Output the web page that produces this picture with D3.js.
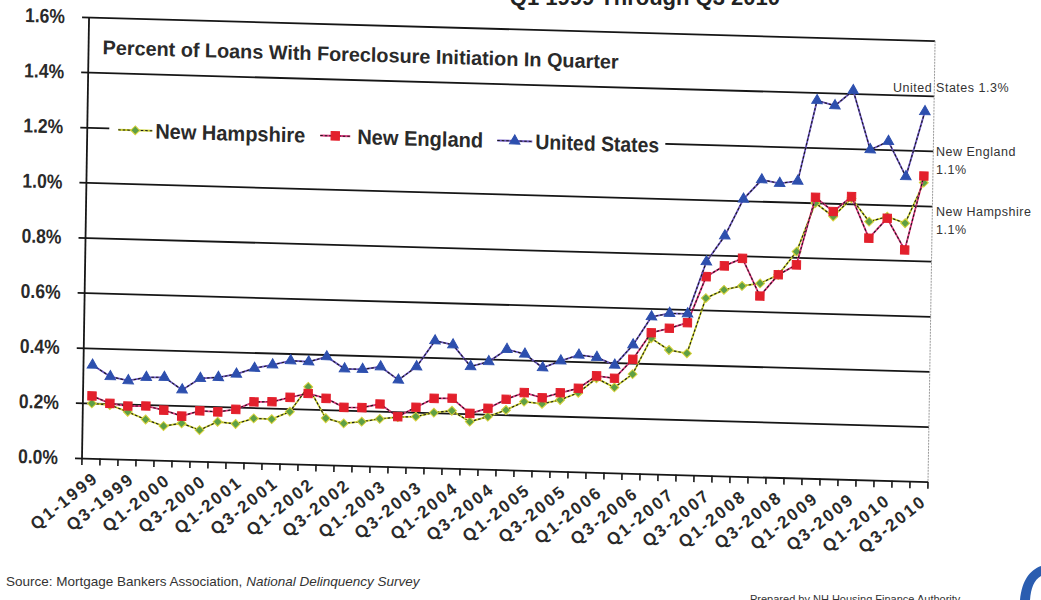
<!DOCTYPE html>
<html>
<head>
<meta charset="utf-8">
<script src="https://cdn.jsdelivr.net/npm/d3@7"></script>
<style>
  body { margin: 0; background: #fff; }
  svg { display: block; }
</style>
</head>
<body>
<svg id="chart" width="1041" height="600"></svg>
<script>
// Quarters Q1-1999 .. Q3-2010
const quarters = [
  "Q1-1999","Q2-1999","Q3-1999","Q4-1999","Q1-2000","Q2-2000","Q3-2000","Q4-2000",
  "Q1-2001","Q2-2001","Q3-2001","Q4-2001","Q1-2002","Q2-2002","Q3-2002","Q4-2002",
  "Q1-2003","Q2-2003","Q3-2003","Q4-2003","Q1-2004","Q2-2004","Q3-2004","Q4-2004",
  "Q1-2005","Q2-2005","Q3-2005","Q4-2005","Q1-2006","Q2-2006","Q3-2006","Q4-2006",
  "Q1-2007","Q2-2007","Q3-2007","Q4-2007","Q1-2008","Q2-2008","Q3-2008","Q4-2008",
  "Q1-2009","Q2-2009","Q3-2009","Q4-2009","Q1-2010","Q2-2010","Q3-2010"
];
const tickLabels = [
  "Q1-1999","Q3-1999","Q1-2000","Q3-2000","Q1-2001","Q3-2001","Q1-2002","Q3-2002",
  "Q1-2003","Q3-2003","Q1-2004","Q3-2004","Q1-2005","Q3-2005","Q1-2006","Q3-2006",
  "Q1-2007","Q3-2007","Q1-2008","Q3-2008","Q1-2009","Q3-2009","Q1-2010","Q3-2010"
];
const yTicks = [0, 0.2, 0.4, 0.6, 0.8, 1.0, 1.2, 1.4, 1.6];

// Percent of loans with foreclosure initiation in quarter
const newHampshire = [
  0.199,0.195,0.172,0.146,0.124,0.136,0.113,0.145,0.139,0.161,0.160,0.189,
  0.281,0.169,0.152,0.160,0.172,0.180,0.184,0.200,0.209,0.171,0.191,0.217,
  0.249,0.243,0.259,0.287,0.341,0.310,0.360,0.492,0.451,0.441,0.643,0.675,
  0.691,0.702,0.735,0.821,0.999,0.952,1.020,0.937,0.957,0.935,1.084
];
const newEngland = [
  0.226,0.201,0.193,0.195,0.182,0.162,0.183,0.181,0.192,0.221,0.223,0.241,
  0.257,0.241,0.210,0.211,0.226,0.182,0.218,0.252,0.254,0.201,0.221,0.256,
  0.282,0.265,0.285,0.303,0.350,0.343,0.414,0.512,0.530,0.552,0.721,0.762,
  0.791,0.656,0.735,0.773,1.020,0.970,1.026,0.877,0.951,0.838,1.108
];
const unitedStates = [
  0.338,0.298,0.285,0.299,0.301,0.257,0.301,0.306,0.320,0.343,0.357,0.374,
  0.372,0.392,0.350,0.350,0.361,0.315,0.365,0.461,0.448,0.371,0.391,0.437,
  0.422,0.374,0.401,0.424,0.417,0.391,0.466,0.570,0.584,0.584,0.775,0.871,
  1.006,1.078,1.067,1.077,1.371,1.354,1.411,1.198,1.230,1.104,1.342
];
const seriesNames = ["New Hampshire", "New England", "United States"];
const endNotes = [
  { lines: ["United States 1.3%"], x: 893, y: 92 },
  { lines: ["New England", "1.1%"], x: 936, y: 156 },
  { lines: ["New Hampshire", "1.1%"], x: 936, y: 216 }
];

const series = [
  { name: seriesNames[0], values: newHampshire, line: "#c9cf2e", fill: "#5e9f45", edge: "#d9d23a", shape: "diamond" },
  { name: seriesNames[1], values: newEngland,   line: "#d9367c", fill: "#e3202c", edge: "#e3202c", shape: "square" },
  { name: seriesNames[2], values: unitedStates, line: "#6b55c0", fill: "#2d4fae", edge: "#2d4fae", shape: "triangle" }
];

const svg = d3.select("#chart");
const narrow = '"Liberation Sans Narrow","Arial Narrow","Liberation Sans",Arial,sans-serif';
const sans = '"Liberation Sans",Arial,sans-serif';

// Top heading, mostly outside the page edge
svg.append("text")
  .attr("x", 780).attr("y", 5)
  .attr("text-anchor", "end")
  .style("font-family", sans).style("font-weight", "bold").style("font-size", "22px")
  .attr("fill", "#222")
  .text("Q1 1999 Through Q3 2010");

// The chart frame is slightly skewed on the page
const frame = svg.append("g")
  .attr("transform", "matrix(1,0.028,-0.016,1,7.33,-2.32)");

const plotLeft = 82, plotRight = 928, plotTop = 17, plotBottom = 458;
const x = d3.scaleBand().domain(quarters).range([plotLeft, plotRight]);
const y = d3.scaleLinear().domain([0, 1.6]).range([plotBottom, plotTop]);
const cx = q => x(q) + x.bandwidth() / 2;

// Horizontal gridlines and value labels
const yAxis = d3.axisLeft(y)
  .tickValues(yTicks)
  .tickSize(-(plotRight - 75))
  .tickPadding(17)
  .tickFormat(d => d.toFixed(1) + "%");
const gy = frame.append("g").attr("transform", "translate(75,0)").call(yAxis);
gy.select(".domain").remove();
gy.selectAll(".tick line").attr("stroke", "#161616").attr("stroke-width", 1.8);
gy.selectAll(".tick text")
  .attr("fill", "#2a2a2a")
  .style("font-family", narrow).style("font-weight", "bold").style("font-size", "20px")
  .attr("textLength", 40).attr("lengthAdjust", "spacingAndGlyphs");

// Left axis line and right border
frame.append("line").attr("x1", plotLeft).attr("x2", plotLeft).attr("y1", plotTop).attr("y2", plotBottom)
  .attr("stroke", "#161616").attr("stroke-width", 1.8);
frame.append("line").attr("x1", plotRight).attr("x2", plotRight).attr("y1", plotTop).attr("y2", plotBottom)
  .attr("stroke", "#999").attr("stroke-width", 1).attr("stroke-dasharray", "2,1");

// Category ticks along the bottom axis
const tickPos = quarters.map(q => x(q)).concat([plotRight]);
frame.append("g").selectAll("line").data(tickPos).join("line")
  .attr("x1", d => d).attr("x2", d => d)
  .attr("y1", plotBottom).attr("y2", plotBottom + 7)
  .attr("stroke", "#161616").attr("stroke-width", 1.6);

// Rotated category labels
frame.append("g").selectAll("text").data(tickLabels).join("text")
  .attr("transform", d => `translate(${cx(d) + 5},${plotBottom + 17}) rotate(-40)`)
  .attr("text-anchor", "end")
  .attr("dy", "0.35em")
  .attr("fill", "#2a2a2a")
  .style("font-family", sans).style("font-weight", "bold").style("font-size", "17px")
  .style("letter-spacing", "2.2px")
  .text(d => d);

// Chart heading inside the plot
frame.append("text")
  .attr("x", 96).attr("y", 54)
  .attr("fill", "#2a2a2a")
  .style("font-family", narrow).style("font-weight", "bold").style("font-size", "20px")
  .attr("textLength", 516).attr("lengthAdjust", "spacingAndGlyphs")
  .text("Percent of Loans With Foreclosure Initiation In Quarter");

// Legend background interrupts the 1.2% gridline
frame.append("rect").attr("x", 104).attr("y", 113).attr("width", 556).attr("height", 30)
  .attr("fill", "#fff");

const symbolFor = shape => shape === "triangle" ? d3.symbol(d3.symbolTriangle, 48)
  : shape === "square" ? d3.symbol(d3.symbolSquare, 70)
  : d3.symbol(d3.symbolSquare, 40);

// Series lines and markers
const line = d3.line().x((d, i) => cx(quarters[i])).y(d => y(d));
series.forEach(s => {
  const g = frame.append("g");
  g.append("path").attr("d", line(s.values)).attr("fill", "none")
    .attr("stroke", s.line).attr("stroke-width", 1.8);
  g.append("path").attr("d", line(s.values)).attr("fill", "none")
    .attr("stroke", "#1a1a1a").attr("stroke-width", 1.1).attr("stroke-dasharray", "2.5,2");
  g.selectAll("path.mk").data(s.values).join("path").attr("class", "mk")
    .attr("d", symbolFor(s.shape))
    .attr("transform", (d, i) => `translate(${cx(quarters[i])},${y(d)})` + (s.shape === "diamond" ? " rotate(45)" : ""))
    .attr("fill", s.fill).attr("stroke", s.edge).attr("stroke-width", 1);
});

// Legend entries
const legendItems = [
  { s: series[0], x0: 113, x1: 147, tx: 150, tw: 150 },
  { s: series[1], x0: 315, x1: 345, tx: 352, tw: 126 },
  { s: series[2], x0: 492, x1: 527, tx: 530, tw: 124 }
];
legendItems.forEach(it => {
  const g = frame.append("g");
  const ly = 129;
  g.append("line").attr("x1", it.x0).attr("x2", it.x1).attr("y1", ly).attr("y2", ly)
    .attr("stroke", it.s.line).attr("stroke-width", 2);
  g.append("line").attr("x1", it.x0).attr("x2", it.x1).attr("y1", ly).attr("y2", ly)
    .attr("stroke", "#1a1a1a").attr("stroke-width", 1).attr("stroke-dasharray", "2.5,2");
  g.append("path").attr("d", symbolFor(it.s.shape))
    .attr("transform", `translate(${(it.x0 + it.x1) / 2},${ly})` + (it.s.shape === "diamond" ? " rotate(45)" : ""))
    .attr("fill", it.s.fill).attr("stroke", it.s.edge);
  g.append("text").attr("x", it.tx).attr("y", ly).attr("dy", "0.36em")
    .attr("fill", "#2a2a2a")
    .style("font-family", narrow).style("font-weight", "bold").style("font-size", "21px")
    .attr("textLength", it.tw).attr("lengthAdjust", "spacingAndGlyphs")
    .text(it.s.name);
});

// End-of-series notes beside the plot
endNotes.forEach(n => {
  const t = svg.append("text").attr("x", n.x).attr("y", n.y)
    .attr("fill", "#333")
    .style("font-family", sans).style("font-size", "12.5px").style("letter-spacing", "0.5px");
  n.lines.forEach((l, i) => t.append("tspan").attr("x", n.x).attr("dy", i ? 18 : 0).text(l));
});

// Source line
const src = svg.append("text").attr("x", 6).attr("y", 586)
  .attr("fill", "#333")
  .style("font-family", sans).style("font-size", "13.5px");
src.append("tspan").text("Source: Mortgage Bankers Association, ");
src.append("tspan").style("font-style", "italic").text("National Delinquency Survey");

// Footer credit along the bottom edge
svg.append("text").attr("x", 750).attr("y", 603)
  .attr("fill", "#333")
  .style("font-family", sans).style("font-size", "11px")
  .text("Prepared by NH Housing Finance Authority");

// Logo corner
svg.append("path")
  .attr("d", "M1041,566 C1030,570 1022,580 1020,600 L1030,600 C1031,588 1034,580 1041,576 Z")
  .attr("fill", "#2a5db0");
</script>
</body>
</html>
